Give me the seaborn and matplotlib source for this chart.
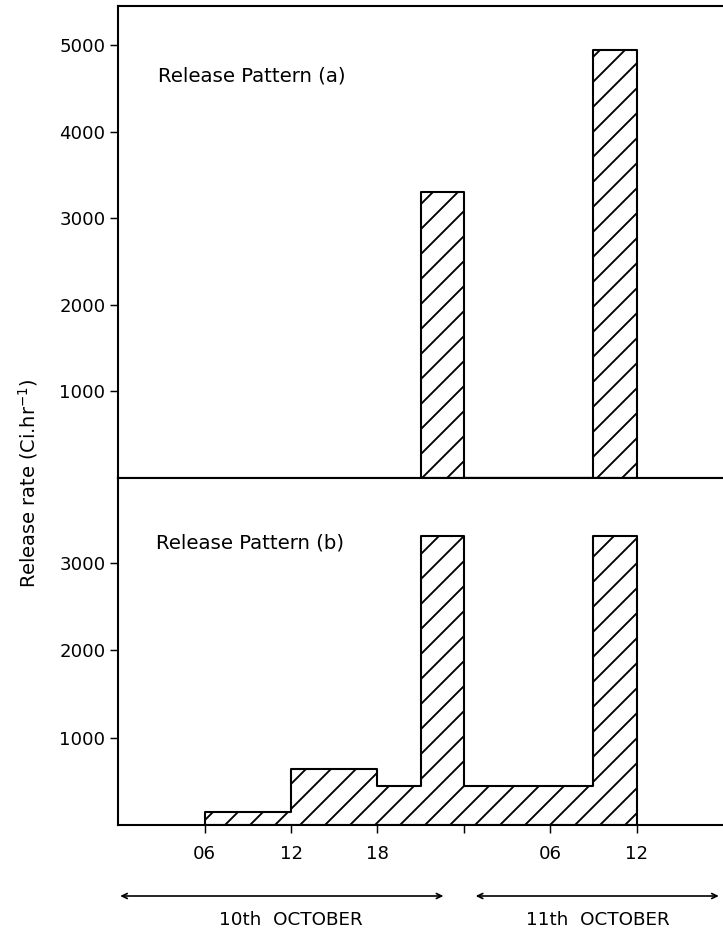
import numpy as np
import pandas as pd
import matplotlib
matplotlib.use("Agg")
import matplotlib.pyplot as plt
import seaborn as sns

# ---- data (hours from 00:00 on 10th October) ----
edges_a = [21, 24, 33, 36]
rate_a = [3300, 0, 4950]
edges_b = [6, 12, 18, 21, 24, 33, 36]
rate_b = [150, 640, 450, 3300, 450, 3300]

xticks = [6, 12, 18, 24, 30, 36]
xtick_labels = ["06", "12", "18", "", "06", "12"]
yticks_a = [1000, 2000, 3000, 4000, 5000]
yticks_b = [1000, 2000, 3000]
panel_titles = ["Release Pattern (a)", "Release Pattern (b)"]
date_labels = ["10th  OCTOBER", "11th  OCTOBER"]
ylabel = "Release rate (Ci.hr$^{-1}$)"

sns.set_style("ticks")
plt.rcParams["font.family"] = ["DejaVu Sans"]
plt.rcParams["text.color"] = "black"
plt.rcParams["hatch.linewidth"] = 0.9
plt.rcParams["axes.linewidth"] = 1.0

W, H, DPI = 723, 935, 150
fig = plt.figure(figsize=(W / DPI, H / DPI), dpi=DPI)

left = 118.3 / W
ax_a = fig.add_axes([left, 1 - 477.7 / H, 1 - left, (477.7 - 5.7) / H])
ax_b = fig.add_axes([left, 1 - 825 / H, 1 - left, (825 - 477.7) / H])


def draw(ax, edges, rates):
    e = [float(v) for v in edges]
    df = pd.DataFrame({
        "hour": [(e[i] + e[i + 1]) / 2 for i in range(len(e) - 1)],
        "rate": [float(r) for r in rates],
    })
    sns.histplot(data=df, x="hour", weights="rate", bins=e, element="step",
                 fill=True, stat="count", color="white", edgecolor="black",
                 hatch="//", linewidth=1.0, alpha=1, ax=ax)


draw(ax_a, edges_a, rate_a)
draw(ax_b, edges_b, rate_b)

for ax in (ax_a, ax_b):
    ax.set_xlim(0, 42)
    ax.set_xticks(xticks)
    ax.spines["right"].set_visible(False)
    for s in ("left", "top", "bottom"):
        ax.spines[s].set_visible(True)
        ax.spines[s].set_linewidth(1.0)
        ax.spines[s].set_color("black")
    ax.tick_params(direction="out", length=3.8, width=0.7, colors="black",
                   labelsize=8.7, pad=2.4)
    ax.set_ylabel("")
    ax.set_xlabel("")
    ax.set_facecolor("white")

ax_a.set_ylim(0, 5460)
ax_a.set_yticks(yticks_a)
ax_a.set_yticklabels([str(v) for v in yticks_a])
ax_a.tick_params(axis="x", labelbottom=False)

ax_b.set_ylim(0, 3970)
ax_b.set_yticks(yticks_b)
ax_b.set_yticklabels([str(v) for v in yticks_b])
ax_b.set_xticklabels(xtick_labels)
ax_b.tick_params(axis="x", pad=6, labelsize=8.7)

ax_a.text(0.065, 0.851, panel_titles[0], transform=ax_a.transAxes,
          ha="left", va="center", fontsize=9.5, color="black")
ax_b.text(0.063, 0.812, panel_titles[1], transform=ax_b.transAxes,
          ha="left", va="center", fontsize=9.5, color="black")

fig.text(28 / W, 1 - 483 / H, ylabel, rotation=90, ha="center", va="center",
         fontsize=9.3, color="black")

# date span arrows
y_line = 1 - 896 / H
for x0, x1 in [(116 / W, 447.6 / W), (471.5 / W, 1.0)]:
    fig.add_artist(matplotlib.patches.FancyArrowPatch(
        (x0, y_line), (x1, y_line), transform=fig.transFigure,
        arrowstyle="<->,head_length=0.25,head_width=0.12", mutation_scale=10,
        linewidth=0.8, color="black"))
fig.text(290.7 / W, 1 - 920 / H, date_labels[0], ha="center", va="center",
         fontsize=8.8, color="black")
fig.text(597.6 / W, 1 - 920 / H, date_labels[1], ha="center", va="center",
         fontsize=8.8, color="black")

fig.savefig("out.png", dpi=DPI, facecolor="white")
